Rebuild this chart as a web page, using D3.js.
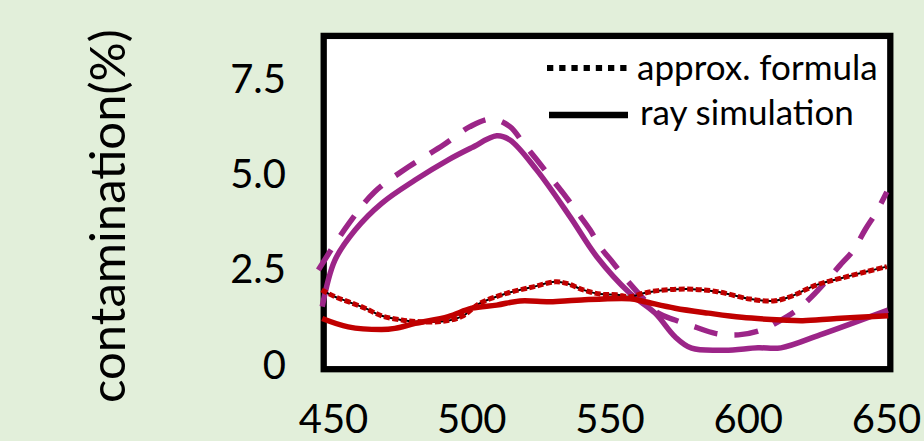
<!DOCTYPE html>
<html>
<head>
<meta charset="utf-8">
<script src="https://cdn.jsdelivr.net/npm/d3@7"></script>
<style>
  html, body { margin: 0; padding: 0; background: #E2EFDA; }
  svg { display: block; }
  text { font-family: Lato, "Open Sans", sans-serif; fill: #000; }
</style>
</head>
<body>
<svg id="chart" width="924" height="441"></svg>
<script>
// ---------- data ----------
const xTicks = [450, 500, 550, 600, 650];
const yTicks = [0, 2.5, 5.0, 7.5];
const yTickLabels = ["0", "2.5", "5.0", "7.5"];
const yTitle = "contamination(%)";
const legendLabels = ["approx. formula", "ray simulation"];

// approx. formula, purple (dashed)
const approxPurpleX = [444.7, 455.5, 465.2, 477.2, 489.9, 499.5, 507.4, 514.0, 518.8, 523.7, 528.5, 533.3, 538.2, 543.0, 546.6, 551.4, 556.2, 562.8, 567.6, 573.7, 580.9, 588.2, 596.6, 605.0, 611.1, 617.7, 623.1, 629.7, 633.4, 638.2, 642.4, 646.6, 650.3];
const approxPurpleY = [2.49, 3.69, 4.55, 5.19, 5.77, 6.25, 6.45, 6.25, 5.82, 5.38, 4.94, 4.50, 4.02, 3.54, 3.10, 2.67, 2.23, 1.70, 1.36, 1.18, 1.00, 0.83, 0.79, 0.92, 1.14, 1.44, 1.79, 2.31, 2.62, 3.01, 3.54, 4.02, 4.54];

// ray simulation, purple (solid)
const rayPurpleX = [446.1, 450.7, 458.0, 467.6, 479.7, 491.7, 500.2, 509.2, 514.0, 523.7, 535.7, 545.4, 557.4, 566.5, 573.7, 579.7, 591.8, 603.7, 612.0, 626.1, 650.7];
const rayPurpleY = [1.53, 2.75, 3.54, 4.24, 4.85, 5.38, 5.70, 6.01, 5.90, 5.11, 3.89, 2.84, 1.88, 1.36, 0.74, 0.44, 0.39, 0.45, 0.45, 0.79, 1.44];

// approx. formula, red (dotted)
const approxRedX = [445.9, 450.7, 455.5, 461.6, 467.6, 474.8, 480.0, 489.3, 496.5, 503.2, 512.8, 522.4, 530.3, 534.5, 540.5, 546.6, 552.6, 557.4, 562.2, 567.6, 577.9, 588.5, 600.8, 609.2, 615.3, 624.9, 633.4, 643.0, 650.3];
const approxRedY = [1.97, 1.79, 1.66, 1.49, 1.29, 1.18, 1.14, 1.14, 1.27, 1.62, 1.88, 2.05, 2.18, 2.14, 1.97, 1.86, 1.84, 1.79, 1.88, 1.95, 1.99, 1.93, 1.73, 1.68, 1.79, 2.10, 2.27, 2.45, 2.58];

// ray simulation, red (solid)
const rayRedX = [446.1, 455.5, 467.6, 472.4, 479.7, 491.7, 500.2, 509.2, 517.6, 528.5, 538.1, 557.4, 562.8, 573.7, 585.8, 597.8, 612.3, 619.9, 632.1, 650.8];
const rayRedY = [1.22, 1.00, 0.93, 0.96, 1.09, 1.27, 1.49, 1.57, 1.68, 1.66, 1.70, 1.74, 1.66, 1.49, 1.36, 1.25, 1.18, 1.16, 1.22, 1.29];

// ---------- styles ----------
const PURPLE = "#9C2588";
const RED = "#C00000";

const svg = d3.select("#chart");

const x = d3.scaleLinear().domain([450, 650]).range([333, 886]);
const y = d3.scaleLinear().domain([0, 7.5]).range([365, 79]);

// plot area
svg.append("rect")
  .attr("x", 323.7).attr("y", 35.9)
  .attr("width", 566.6).attr("height", 333.3)
  .attr("fill", "#fff").attr("stroke", "#000").attr("stroke-width", 6.3);

// axes (labels only)
const xAxis = d3.axisBottom(x).tickValues(xTicks).tickSize(0).tickPadding(0).tickFormat(d3.format("d"));
const gx = svg.append("g").call(xAxis);
gx.select(".domain").remove();
gx.selectAll("text").attr("y", 433).attr("dy", null)
  .style("font-size", "40px").style("font-family", "Lato, sans-serif");

const yAxis = d3.axisLeft(y).tickValues(yTicks).tickSize(0).tickPadding(0)
  .tickFormat((d, i) => yTickLabels[i]);
const gy = svg.append("g").attr("transform", "translate(286,0)").call(yAxis);
gy.select(".domain").remove();
gy.selectAll("text").attr("x", 0).attr("dy", "13px")
  .style("font-size", "40px").style("font-family", "Lato, sans-serif");

// y title
svg.append("text")
  .attr("transform", "translate(125,216) rotate(-90)")
  .attr("text-anchor", "middle")
  .style("font-size", "49px")
  .text(yTitle);

// lines
const line = d3.line().x(d => x(d[0])).y(d => y(d[1])).curve(d3.curveCatmullRom.alpha(0.5));
const zipXY = (xs, ys) => xs.map((v, i) => [v, ys[i]]);

svg.append("path").datum(zipXY(approxPurpleX, approxPurpleY))
  .attr("d", line).attr("fill", "none").attr("stroke", PURPLE)
  .attr("stroke-width", 5.5).attr("stroke-dasharray", "24,17");

svg.append("path").datum(zipXY(rayPurpleX, rayPurpleY))
  .attr("d", line).attr("fill", "none").attr("stroke", PURPLE)
  .attr("stroke-width", 5.5).attr("stroke-linejoin", "round");

// red dotted (small black dots between red square dots)
svg.append("path").datum(zipXY(approxRedX, approxRedY))
  .attr("d", line).attr("fill", "none").attr("stroke", "#000")
  .attr("stroke-width", 2);
svg.append("path").datum(zipXY(approxRedX, approxRedY))
  .attr("d", line).attr("fill", "none").attr("stroke", RED)
  .attr("stroke-width", 5).attr("stroke-dasharray", "6,2.5");

svg.append("path").datum(zipXY(rayRedX, rayRedY))
  .attr("d", line).attr("fill", "none").attr("stroke", RED)
  .attr("stroke-width", 5.5).attr("stroke-linejoin", "round");

// legend
const lg = svg.append("g");
lg.append("line").attr("x1", 547).attr("x2", 628).attr("y1", 68).attr("y2", 68)
  .attr("stroke", "#000").attr("stroke-width", 6).attr("stroke-dasharray", "6.3,5.9");
lg.append("line").attr("x1", 549).attr("x2", 628).attr("y1", 115).attr("y2", 115)
  .attr("stroke", "#000").attr("stroke-width", 6.5);
lg.append("text").attr("x", 637).attr("y", 80).style("font-size", "35px").text(legendLabels[0]);
lg.append("text").attr("x", 640).attr("y", 125).style("font-size", "35px").text(legendLabels[1]);
</script>
</body>
</html>
